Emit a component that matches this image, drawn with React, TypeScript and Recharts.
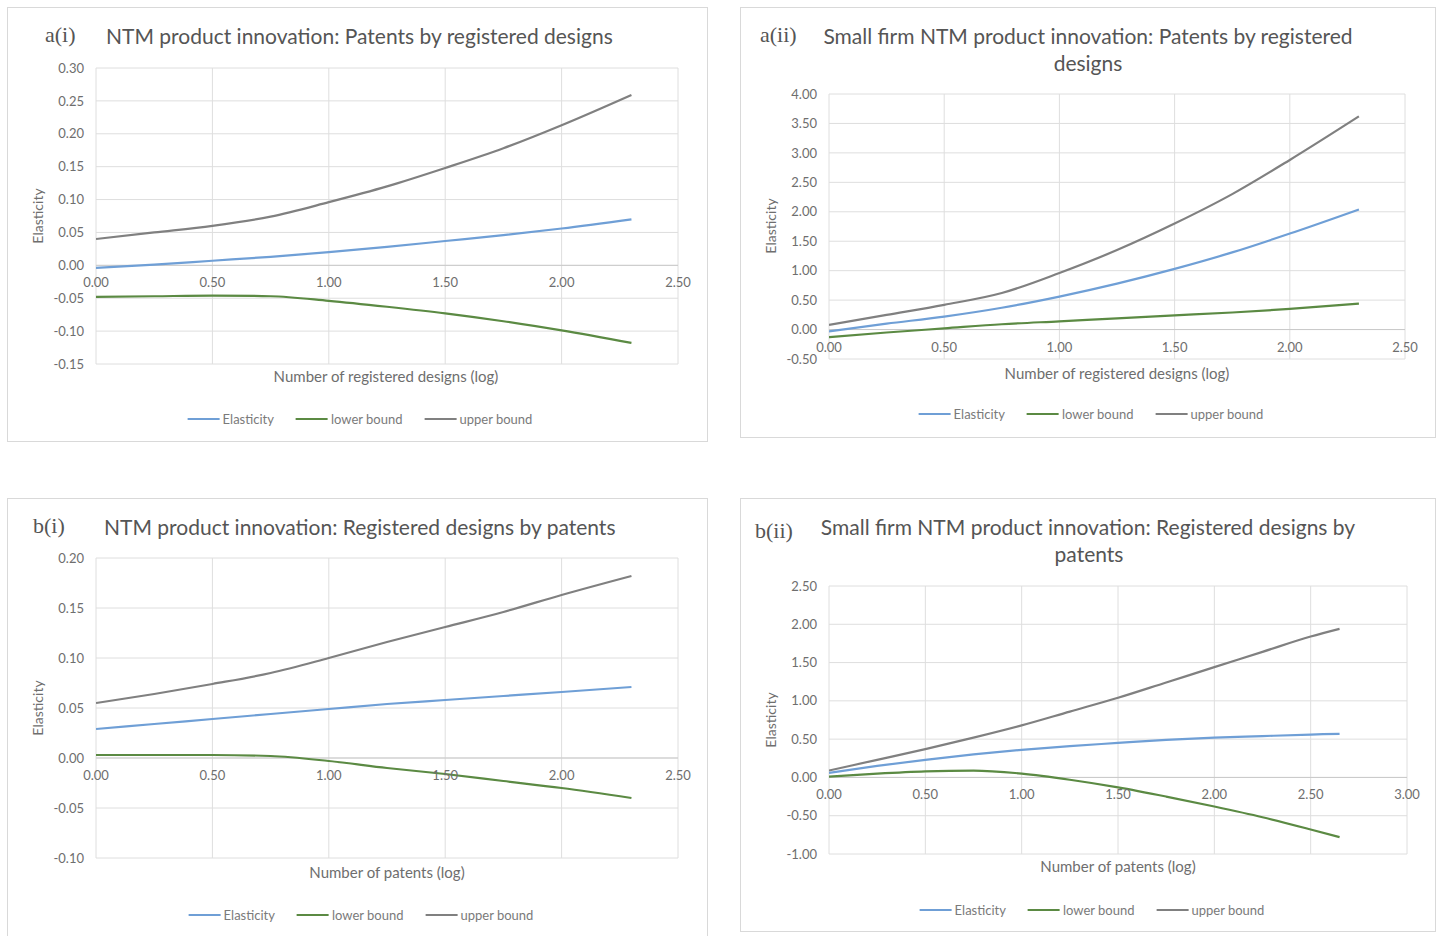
import type { ReactNode } from "react"
import { LineChart, Line, XAxis, YAxis, CartesianGrid, ReferenceLine } from "recharts"

const FONT = "Lato, 'Open Sans', sans-serif"
const TAG_FONT = "'Liberation Serif', 'DejaVu Serif', serif"
const BLUE = "#6f9fd6"
const GREEN = "#5b8a43"
const GREY = "#808080"
const TICK = "#6e6e6e"
const TITLE = "#555555"
const GRID = "#dedede"

// a(i) NTM product innovation: patents by registered designs
const a1X = [0, 0.25, 0.5, 0.75, 1, 1.25, 1.5, 1.75, 2, 2.3]
const a1Elasticity = [-0.004, 0.001, 0.007, 0.013, 0.02, 0.028, 0.037, 0.046, 0.056, 0.07]
const a1Lower = [-0.048, -0.047, -0.046, -0.047, -0.054, -0.063, -0.073, -0.085, -0.099, -0.118]
const a1Upper = [0.04, 0.05, 0.06, 0.074, 0.096, 0.12, 0.148, 0.178, 0.213, 0.259]
const a1YTicks = [-0.15, -0.1, -0.05, 0, 0.05, 0.1, 0.15, 0.2, 0.25, 0.3]

// a(ii) small firm: patents by registered designs
const a2X = [0, 0.25, 0.5, 0.75, 1, 1.25, 1.5, 1.75, 2, 2.3]
const a2Elasticity = [-0.03, 0.1, 0.22, 0.37, 0.56, 0.78, 1.03, 1.31, 1.63, 2.04]
const a2Lower = [-0.13, -0.05, 0.02, 0.09, 0.14, 0.19, 0.24, 0.29, 0.35, 0.44]
const a2Upper = [0.08, 0.25, 0.42, 0.62, 0.96, 1.35, 1.8, 2.3, 2.88, 3.62]
const a2YTicks = [-0.5, 0, 0.5, 1, 1.5, 2, 2.5, 3, 3.5, 4]

// b(i) NTM product innovation: registered designs by patents
const b1X = [0, 0.25, 0.5, 0.75, 1, 1.25, 1.5, 1.75, 2, 2.3]
const b1Elasticity = [0.029, 0.034, 0.039, 0.044, 0.049, 0.054, 0.058, 0.062, 0.066, 0.071]
const b1Lower = [0.003, 0.003, 0.003, 0.002, -0.003, -0.01, -0.016, -0.023, -0.03, -0.04]
const b1Upper = [0.055, 0.064, 0.074, 0.085, 0.1, 0.116, 0.131, 0.146, 0.163, 0.182]
const b1YTicks = [-0.1, -0.05, 0, 0.05, 0.1, 0.15, 0.2]

// b(ii) small firm: registered designs by patents
const b2X = [0, 0.25, 0.5, 0.75, 1, 1.25, 1.5, 1.75, 2, 2.25, 2.5, 2.65]
const b2Elasticity = [0.06, 0.15, 0.23, 0.3, 0.36, 0.41, 0.45, 0.49, 0.52, 0.54, 0.56, 0.57]
const b2Lower = [0.01, 0.05, 0.08, 0.09, 0.05, -0.03, -0.13, -0.25, -0.38, -0.52, -0.68, -0.78]
const b2Upper = [0.09, 0.23, 0.37, 0.52, 0.68, 0.86, 1.04, 1.24, 1.44, 1.64, 1.84, 1.94]
const b2YTicks = [-1, -0.5, 0, 0.5, 1, 1.5, 2, 2.5]

const xTicks25 = [0, 0.5, 1, 1.5, 2, 2.5]
const xTicks30 = [0, 0.5, 1, 1.5, 2, 2.5, 3]

const legendItems = [
  { name: "Elasticity", color: BLUE },
  { name: "lower bound", color: GREEN },
  { name: "upper bound", color: GREY },
]

type Box = { left: number; top: number; width: number; height: number }
type Plot = { x0: number; x1: number; y0: number; y1: number }
type TitleLine = { text: string; x: number; y: number; center?: boolean }

type PanelProps = {
  box: Box
  plot: Plot
  tag: { text: string; x: number; y: number }
  title: TitleLine[]
  xLabel: string
  xLabelPos: [number, number]
  yLabelPos: [number, number]
  legendPos: [number, number]
  x: number[]
  elasticity: number[]
  lower: number[]
  upper: number[]
  yTicks: number[]
  xTicks: number[]
}

function TextAt({
  x,
  y,
  size,
  color,
  center,
  rotate,
  family = FONT,
  children,
}: {
  x: number
  y: number
  size: number
  color: string
  center?: boolean
  rotate?: boolean
  family?: string
  children: ReactNode
}) {
  const tx = center ? "-50%" : "0"
  return (
    <div
      style={{
        position: "absolute",
        left: x,
        top: y,
        transform: `translate(${tx}, -50%)${rotate ? " rotate(-90deg)" : ""}`,
        fontSize: size,
        color,
        fontFamily: family,
        whiteSpace: "nowrap",
        lineHeight: 1,
      }}
    >
      {children}
    </div>
  )
}

function Legend({ x, y }: { x: number; y: number }) {
  return (
    <div
      style={{
        position: "absolute",
        left: x,
        top: y,
        transform: "translate(-50%, -50%)",
        display: "flex",
        gap: 22,
        fontFamily: FONT,
        fontSize: 13,
        color: "#7a7a7a",
        whiteSpace: "nowrap",
      }}
    >
      {legendItems.map((it) => (
        <div key={it.name} style={{ display: "flex", alignItems: "center", gap: 3 }}>
          <span style={{ display: "inline-block", width: 32, height: 2, background: it.color }} />
          <span>{it.name}</span>
        </div>
      ))}
    </div>
  )
}

function Panel(p: PanelProps) {
  const { box, plot } = p
  const yAxisW = 60
  const xAxisH = 20
  const margin = {
    top: plot.y0 - box.top,
    right: box.left + box.width - plot.x1,
    bottom: box.top + box.height - plot.y1 - xAxisH,
    left: plot.x0 - box.left - yAxisW,
  }
  const yMin = p.yTicks[0]
  const yMax = p.yTicks[p.yTicks.length - 1]
  const xMax = p.xTicks[p.xTicks.length - 1]
  const zeroLift = ((plot.y1 - plot.y0) * (0 - yMin)) / (yMax - yMin)
  const data = p.x.map((x, i) => ({
    x,
    elasticity: p.elasticity[i],
    lower: p.lower[i],
    upper: p.upper[i],
  }))

  // Excel puts the category labels on the zero line, not at the bottom
  const xTick = (props: any) => (
    <text
      x={props.x}
      y={props.y - zeroLift + 22}
      textAnchor="middle"
      fontSize={13}
      fill={TICK}
      fontFamily={FONT}
    >
      {Number(props.payload.value).toFixed(2)}
    </text>
  )

  return (
    <>
      <div
        style={{
          position: "absolute",
          left: box.left,
          top: box.top,
          width: box.width,
          height: box.height,
          border: "1px solid #d9d9d9",
          boxSizing: "border-box",
        }}
      />
      <div style={{ position: "absolute", left: box.left, top: box.top }}>
        <LineChart width={box.width} height={box.height} data={data} margin={margin}>
          <CartesianGrid stroke={GRID} strokeWidth={1} />
          <XAxis
            dataKey="x"
            type="number"
            domain={[0, xMax]}
            ticks={p.xTicks}
            height={xAxisH}
            axisLine={false}
            tickLine={false}
            tickSize={0}
            tickMargin={0}
            tick={xTick}
            allowDataOverflow
          />
          <YAxis
            type="number"
            domain={[yMin, yMax]}
            ticks={p.yTicks}
            width={yAxisW}
            axisLine={false}
            tickLine={false}
            tickSize={0}
            tickMargin={12}
            tick={{ fontSize: 13, fill: TICK, fontFamily: FONT }}
            tickFormatter={(v: number) => v.toFixed(2)}
            allowDataOverflow
          />
          <ReferenceLine y={0} stroke="#c9c9c9" strokeWidth={1} />
          <Line type="monotone" dataKey="elasticity" stroke={BLUE} strokeWidth={2.2} dot={false} isAnimationActive={false} />
          <Line type="monotone" dataKey="lower" stroke={GREEN} strokeWidth={2.2} dot={false} isAnimationActive={false} />
          <Line type="monotone" dataKey="upper" stroke={GREY} strokeWidth={2.2} dot={false} isAnimationActive={false} />
        </LineChart>
      </div>
      <TextAt x={p.tag.x} y={p.tag.y} size={22} color={TITLE} family={TAG_FONT}>
        {p.tag.text}
      </TextAt>
      {p.title.map((t) => (
        <TextAt key={t.text} x={t.x} y={t.y} size={21} color={TITLE} center={t.center}>
          {t.text}
        </TextAt>
      ))}
      <TextAt x={p.xLabelPos[0]} y={p.xLabelPos[1]} size={15} color={TICK} center>
        {p.xLabel}
      </TextAt>
      <TextAt x={p.yLabelPos[0]} y={p.yLabelPos[1]} size={14} color={TICK} center rotate>
        Elasticity
      </TextAt>
      <Legend x={p.legendPos[0]} y={p.legendPos[1]} />
    </>
  )
}

export default function App() {
  return (
    <div
      style={{
        position: "absolute",
        left: 0,
        top: 0,
        width: 1442,
        height: 936,
        background: "#ffffff",
        overflow: "hidden",
      }}
    >
      <Panel
        box={{ left: 7, top: 7, width: 701, height: 435 }}
        plot={{ x0: 96, x1: 678, y0: 68, y1: 364 }}
        tag={{ text: "a(i)", x: 45, y: 35 }}
        title={[{ text: "NTM product innovation: Patents by registered designs", x: 106, y: 35 }]}
        xLabel="Number of registered designs (log)"
        xLabelPos={[386, 376]}
        yLabelPos={[38, 216]}
        legendPos={[360, 419]}
        x={a1X}
        elasticity={a1Elasticity}
        lower={a1Lower}
        upper={a1Upper}
        yTicks={a1YTicks}
        xTicks={xTicks25}
      />
      <Panel
        box={{ left: 740, top: 7, width: 696, height: 431 }}
        plot={{ x0: 829, x1: 1405, y0: 94, y1: 359 }}
        tag={{ text: "a(ii)", x: 760, y: 35 }}
        title={[
          { text: "Small firm NTM product innovation: Patents by registered", x: 1088, y: 35, center: true },
          { text: "designs", x: 1088, y: 62, center: true },
        ]}
        xLabel="Number of registered designs (log)"
        xLabelPos={[1117, 373]}
        yLabelPos={[771, 226]}
        legendPos={[1091, 414]}
        x={a2X}
        elasticity={a2Elasticity}
        lower={a2Lower}
        upper={a2Upper}
        yTicks={a2YTicks}
        xTicks={xTicks25}
      />
      <Panel
        box={{ left: 7, top: 498, width: 701, height: 445 }}
        plot={{ x0: 96, x1: 678, y0: 558, y1: 858 }}
        tag={{ text: "b(i)", x: 33, y: 526 }}
        title={[{ text: "NTM product innovation: Registered designs by patents", x: 104, y: 526 }]}
        xLabel="Number of patents (log)"
        xLabelPos={[387, 872]}
        yLabelPos={[38, 708]}
        legendPos={[361, 915]}
        x={b1X}
        elasticity={b1Elasticity}
        lower={b1Lower}
        upper={b1Upper}
        yTicks={b1YTicks}
        xTicks={xTicks25}
      />
      <Panel
        box={{ left: 740, top: 498, width: 696, height: 434 }}
        plot={{ x0: 829, x1: 1407, y0: 586, y1: 854 }}
        tag={{ text: "b(ii)", x: 755, y: 531 }}
        title={[
          { text: "Small firm NTM product innovation: Registered designs by", x: 1088, y: 526, center: true },
          { text: "patents", x: 1089, y: 553, center: true },
        ]}
        xLabel="Number of patents (log)"
        xLabelPos={[1118, 866]}
        yLabelPos={[771, 720]}
        legendPos={[1092, 910]}
        x={b2X}
        elasticity={b2Elasticity}
        lower={b2Lower}
        upper={b2Upper}
        yTicks={b2YTicks}
        xTicks={xTicks30}
      />
    </div>
  )
}
